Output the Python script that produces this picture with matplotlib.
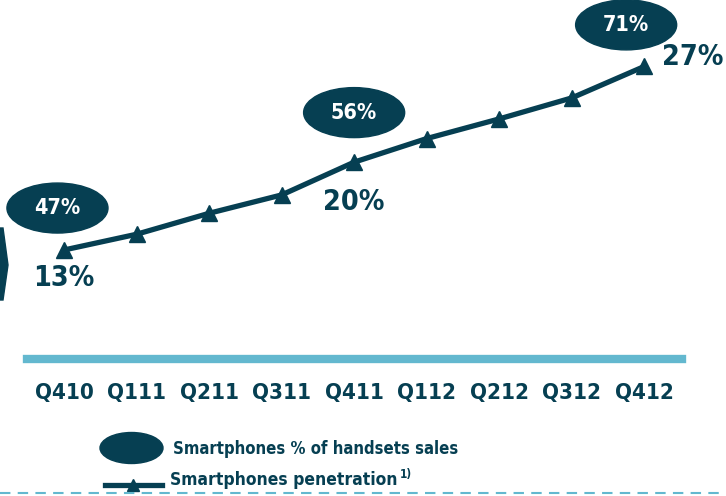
import matplotlib
matplotlib.use("Agg")
import matplotlib.pyplot as plt
from matplotlib.patches import Ellipse, Polygon
from matplotlib.lines import Line2D

# data
quarters = ["Q410", "Q111", "Q211", "Q311", "Q411", "Q112", "Q212", "Q312", "Q412"]
penetration = [13, 14.2, 15.8, 17.2, 19.7, 21.5, 23.0, 24.6, 27]
label_idx = [0, 4, 8]                      # quarters that get value labels
share_of_sales = [47, 56, 71]              # ellipse values
share_labels = ["47%", "56%", "71%"]
pen_labels = ["13%", "20%", "27%"]

DARK = "#063f52"
LIGHT = "#63b8cf"
TXT = dict(family="DejaVu Sans", fontweight="bold", fontstretch="condensed", color=DARK)

W, H = 726, 496
fig = plt.figure(figsize=(W / 100, H / 100), dpi=100)
# axes spans the light blue baseline (x 27..682 px) up to the top
ax = fig.add_axes([27 / W, (H - 359) / H, 655 / W, 359 / H])
ax.set_xlim(-0.51, 8.52)
ppu = 13.11  # pixels per percentage point
ax.set_ylim(13 - 109 / ppu, 13 + 250 / ppu)

x = list(range(len(quarters)))
ax.plot(x, penetration, color=DARK, lw=3.8, marker="^", ms=12,
        markeredgecolor=DARK, solid_capstyle="butt", zorder=3)

for s in ["top", "left", "right"]:
    ax.spines[s].set_visible(False)
ax.spines["bottom"].set_color(LIGHT)
ax.spines["bottom"].set_linewidth(6)
ax.set_yticks([])
ax.set_xticks(x)
ax.set_xticklabels(quarters, fontsize=16, **TXT)
ax.tick_params(axis="x", length=0, pad=17)

# ellipse bubbles (offsets in axis units)
ell_off = [(-0.09, 3.2), (0.0, 3.78), (-0.25, 3.17)]
ew, eh = 101 / 72.5, 50 / ppu
for i, lab, (dx, dy) in zip(label_idx, share_labels, ell_off):
    cx, cy = x[i] + dx, penetration[i] + dy
    ax.add_patch(Ellipse((cx, cy), ew, eh, color=DARK, clip_on=False, zorder=4))
    ax.text(cx, cy, lab, ha="center", va="center", fontsize=15.5, zorder=5,
            **{**TXT, "color": "white"})

# penetration labels
lab_off = [(0, -20), (0, -28.8), (34.6, 6.5)]
for i, lab, off in zip(label_idx, pen_labels, lab_off):
    ax.annotate(lab, (x[i], penetration[i]), xytext=off, textcoords="offset points",
                ha="center", va="center", fontsize=20.5, **TXT)

# left chevron (cut off at the edge)
px = fig.dpi_scale_trans
fig.add_artist(Polygon([(0, 4.96 - 2.28), (0.03, 4.96 - 2.28), (0.08, 4.96 - 2.65),
                        (0.03, 4.96 - 3.00), (0, 4.96 - 3.00)],
                       closed=True, color=DARK, transform=px))

# legend
fig.add_artist(Ellipse((1.315, 4.96 - 4.48), 0.63, 0.31, color=DARK, transform=px))
fig.text(173 / W, (H - 454) / H, "Smartphones % of handsets sales",
         va="baseline", ha="left", fontsize=12, **TXT)
fig.add_artist(Line2D([1.05, 1.62], [4.96 - 4.85] * 2, color=DARK, lw=3.8,
                      transform=px))
fig.add_artist(Line2D([1.325], [4.96 - 4.85], marker="^", ms=8, color=DARK,
                      transform=px))
t = fig.text(170 / W, (H - 485) / H, "Smartphones penetration",
             va="baseline", ha="left", fontsize=12.5, **TXT)
fig.canvas.draw()
bb = t.get_window_extent()
fig.text(bb.x1 / W + 0.003, (H - 478) / H, "1)", va="baseline", ha="left",
         fontsize=8.5, **TXT)

# dashed line at the bottom
fig.add_artist(Line2D([0, 1], [(H - 493) / H] * 2, color=LIGHT, lw=1.5,
                      ls=(0, (5, 3.5)), transform=fig.transFigure))

fig.savefig("out.png", dpi=100)
